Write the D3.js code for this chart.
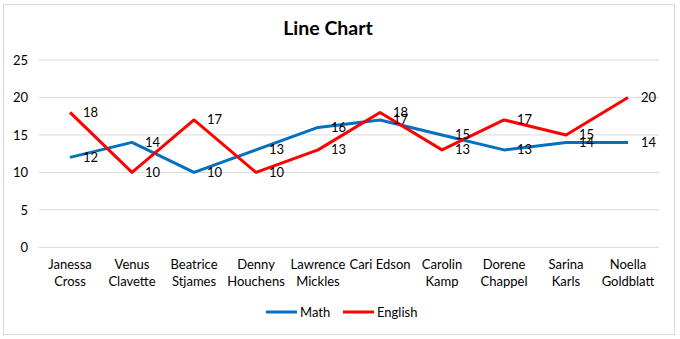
<!DOCTYPE html>
<html>
<head>
<meta charset="utf-8">
<script src="https://cdn.jsdelivr.net/npm/d3@7"></script>
<style>
  html, body { margin: 0; padding: 0; background: #fff; }
  svg { display: block; font-family: Lato, "Open Sans", sans-serif; }
</style>
</head>
<body>
<svg id="chart" width="680" height="339"></svg>
<script>
// Student scores per subject
const students = [
  ["Janessa", "Cross"], ["Venus", "Clavette"], ["Beatrice", "Stjames"],
  ["Denny", "Houchens"], ["Lawrence", "Mickles"], ["Cari Edson"],
  ["Carolin", "Kamp"], ["Dorene", "Chappel"], ["Sarina", "Karls"],
  ["Noella", "Goldblatt"]
];
const math    = [12, 14, 10, 13, 16, 17, 15, 13, 14, 14];
const english = [18, 10, 17, 10, 13, 18, 13, 17, 15, 20];
const yTicks  = [0, 5, 10, 15, 20, 25];

const seriesList = [
  { name: "Math", values: math, color: "#0070C0" },
  { name: "English", values: english, color: "#FF0000" }
];

const svg = d3.select("#chart");
const plot = { left: 39, right: 659, top: 60, bottom: 247.3 };
const FONT = "Lato, 'Open Sans', sans-serif";
const FS = 13;

// Chart frame
svg.append("rect")
  .attr("x", 3.5).attr("y", 4.5)
  .attr("width", 671).attr("height", 330)
  .attr("fill", "#fff").attr("stroke", "#d9d9d9").attr("stroke-width", 1);

// Title
svg.append("text")
  .attr("x", 328).attr("y", 35)
  .attr("text-anchor", "middle")
  .attr("font-size", 19.5).attr("font-weight", "bold")
  .attr("fill", "#000")
  .text("Line Chart");

const idx = d3.range(students.length);
const x = d3.scaleBand().domain(idx).range([plot.left, plot.right]);
const xc = i => x(i) + x.bandwidth() / 2;
const y = d3.scaleLinear().domain([0, 25]).range([plot.bottom, plot.top]);

// Gridlines
svg.append("g")
  .selectAll("line")
  .data(yTicks)
  .join("line")
  .attr("x1", plot.left).attr("x2", plot.right)
  .attr("y1", d => y(d)).attr("y2", d => y(d))
  .attr("stroke", "#d9d9d9").attr("stroke-width", 1);

// Y axis labels
const yAxis = d3.axisLeft(y).tickValues(yTicks).tickSize(0).tickPadding(0);
const gy = svg.append("g")
  .attr("transform", `translate(${plot.left - 11},0)`)
  .call(yAxis);
gy.select(".domain").remove();
gy.selectAll("text")
  .attr("font-size", FS).attr("fill", "#000")
  .attr("font-family", FONT);

// X axis category labels (multi-line)
const xAxis = d3.axisBottom(x).tickSize(0).tickFormat(() => "");
const gx = svg.append("g")
  .attr("transform", `translate(0,${plot.bottom})`)
  .call(xAxis);
gx.select(".domain").remove();
gx.selectAll(".tick").each(function(i) {
  const t = d3.select(this).append("text")
    .attr("text-anchor", "middle")
    .attr("font-size", FS).attr("fill", "#000")
    .attr("font-family", FONT);
  students[i].forEach((part, k) => {
    t.append("tspan").attr("x", 0).attr("y", 22 + k * 17).text(part);
  });
});

// Lines
const line = d3.line().x((d, i) => xc(i)).y(d => y(d));
seriesList.forEach(s => {
  svg.append("path")
    .datum(s.values)
    .attr("d", line)
    .attr("fill", "none")
    .attr("stroke", s.color)
    .attr("stroke-width", 3)
    .attr("stroke-linejoin", "round");
});

// Data labels, placed to the right of each point
seriesList.forEach(s => {
  svg.append("g")
    .selectAll("text")
    .data(s.values)
    .join("text")
    .attr("x", (d, i) => xc(i) + 13)
    .attr("y", d => y(d))
    .attr("dy", "0.35em")
    .attr("font-size", FS).attr("fill", "#000")
    .text(d => d);
});

// Legend
const legend = svg.append("g");
const legendItems = [
  { s: seriesList[0], x0: 266 },
  { s: seriesList[1], x0: 343 }
];
legendItems.forEach(({ s, x0 }) => {
  legend.append("line")
    .attr("x1", x0).attr("x2", x0 + 31)
    .attr("y1", 312).attr("y2", 312)
    .attr("stroke", s.color).attr("stroke-width", 3);
  legend.append("text")
    .attr("x", x0 + 34).attr("y", 312).attr("dy", "0.35em")
    .attr("font-size", FS).attr("fill", "#000")
    .text(s.name);
});
</script>
</body>
</html>
